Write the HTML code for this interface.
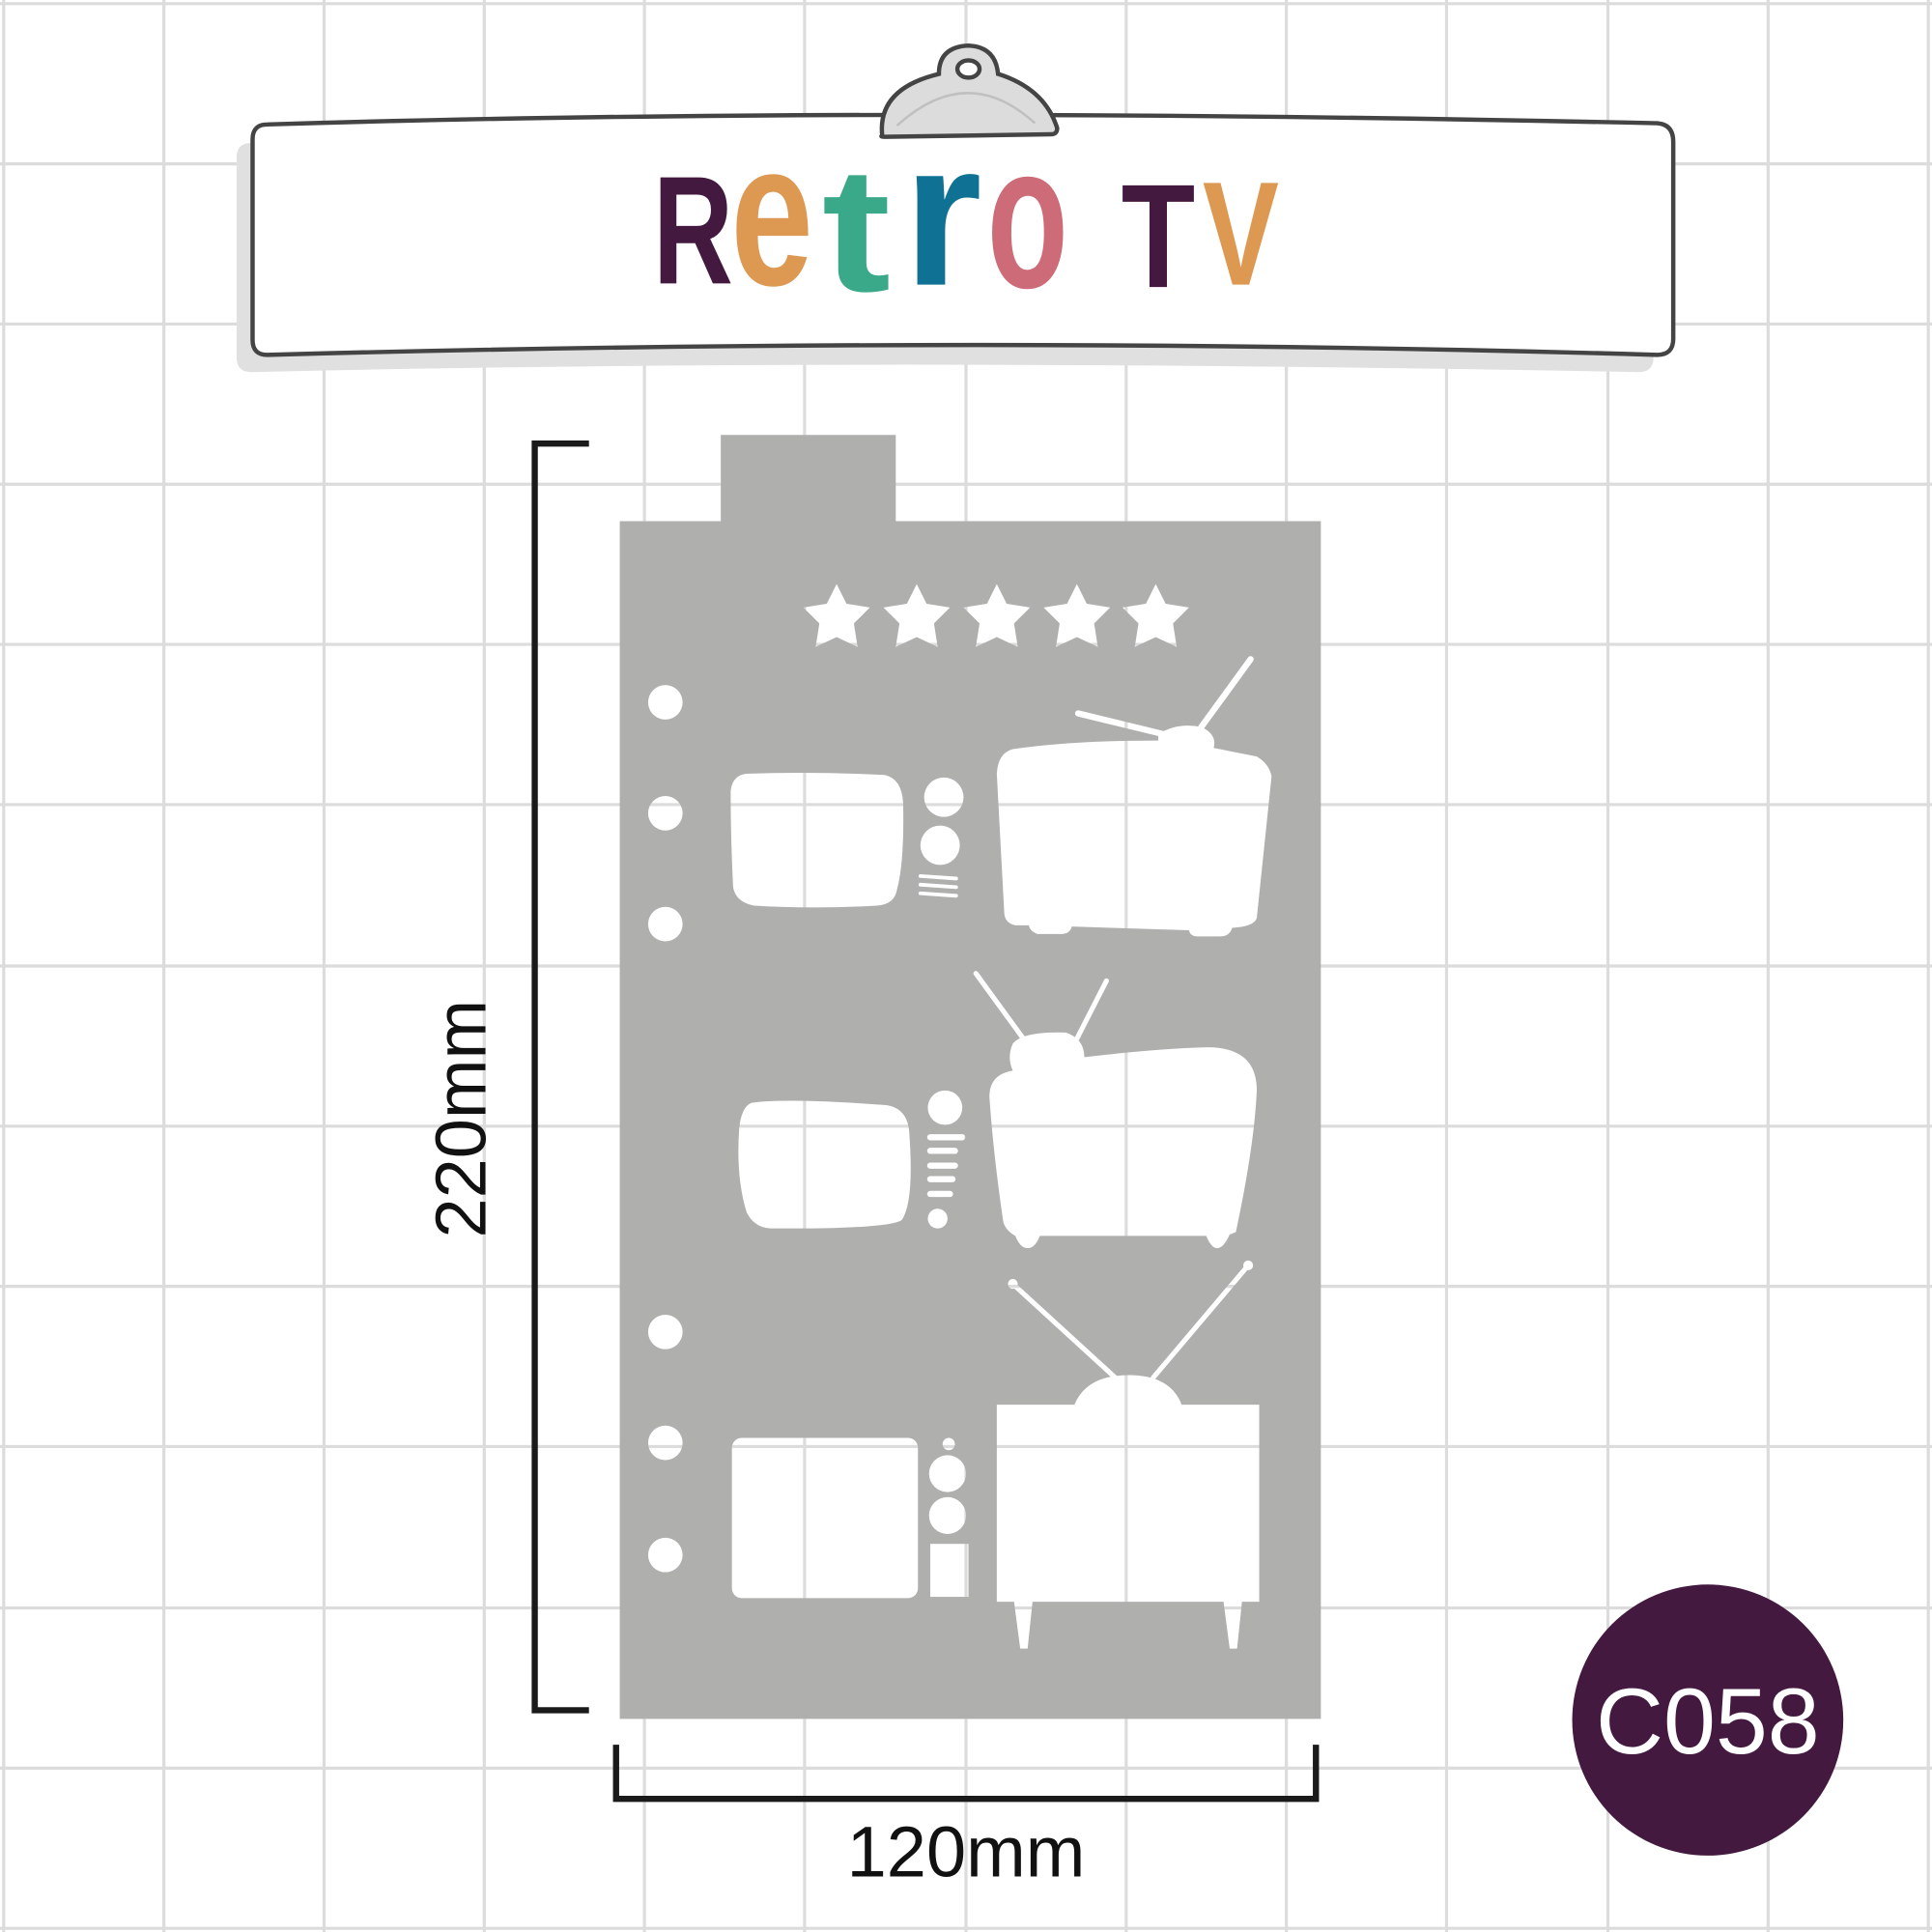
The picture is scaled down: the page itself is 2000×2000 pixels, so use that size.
<!DOCTYPE html>
<html><head><meta charset="utf-8"><style>
html,body{margin:0;padding:0;background:#fff;width:2000px;height:2000px;overflow:hidden}
svg{display:block}
</style></head><body>
<svg width="2000" height="2000" viewBox="0 0 1568 1568" xmlns="http://www.w3.org/2000/svg">
<defs>
<mask id="m" maskUnits="userSpaceOnUse" x="0" y="0" width="1568" height="1568">
<rect x="0" y="0" width="1568" height="1568" fill="#fff"/>
<g fill="#000" stroke="#000">
<g stroke="none">
<circle cx="540" cy="570" r="14"/><circle cx="540" cy="660" r="14"/><circle cx="540" cy="750" r="14"/>
<circle cx="540" cy="1081" r="14"/><circle cx="540" cy="1171" r="14"/><circle cx="540" cy="1262" r="14"/>
</g>
<g stroke="none">
<path d="M679,474 L687,490 L706,493 L693,506 L696,525 L679,517 L662,525 L665,506 L652,493 L671,490Z"/>
<path transform="translate(65,0)" d="M679,474 L687,490 L706,493 L693,506 L696,525 L679,517 L662,525 L665,506 L652,493 L671,490Z"/>
<path transform="translate(130,0)" d="M679,474 L687,490 L706,493 L693,506 L696,525 L679,517 L662,525 L665,506 L652,493 L671,490Z"/>
<path transform="translate(195,0)" d="M679,474 L687,490 L706,493 L693,506 L696,525 L679,517 L662,525 L665,506 L652,493 L671,490Z"/>
<path transform="translate(259,0)" d="M679,474 L687,490 L706,493 L693,506 L696,525 L679,517 L662,525 L665,506 L652,493 L671,490Z"/>
</g>
<path stroke="none" d="M605,628 Q660,626 718,629 Q732,632 733,652 Q734,700 728,722 Q726,734 712,735 Q660,738 612,735 Q597,732 595,720 Q593,680 593,642 Q594,630 605,628Z"/>
<circle stroke="none" cx="766" cy="647" r="16"/><circle stroke="none" cx="763" cy="686" r="16"/>
<g stroke-width="3" stroke-linecap="round"><line x1="747" y1="711" x2="776" y2="713"/><line x1="747" y1="718" x2="776" y2="720"/><line x1="747" y1="725" x2="776" y2="727"/></g>
<path stroke="none" d="M822,608 Q870,601 940,601 L940,596 Q955,586 975,590 Q988,596 985,607 L1020,614 Q1030,620 1032,630 L1020,745 Q1018,752 1000,753 Q998,760 990,760 L972,760 Q966,760 965,755 L870,752 Q868,758 862,758 L842,758 Q836,756 835,751 L824,751 Q815,749 815,740 L809,628 Q810,611 822,608Z"/>
<g stroke-width="5" stroke-linecap="round"><line x1="875" y1="579" x2="945" y2="596"/><line x1="975" y1="590" x2="1015" y2="535"/></g>
<path stroke="none" d="M610,895 Q640,891 720,897 Q737,900 738,920 Q742,975 732,990 Q725,996 660,997 L625,997 Q612,996 606,984 Q597,955 600,915 Q602,898 610,895Z"/>
<circle stroke="none" cx="767" cy="899" r="14"/><circle stroke="none" cx="761" cy="989" r="8"/>
<g stroke-width="5" stroke-linecap="round"><line x1="755" y1="923" x2="781" y2="923"/><line x1="755" y1="934" x2="775" y2="934"/><line x1="755" y1="946" x2="775" y2="946"/><line x1="755" y1="957" x2="773" y2="957"/><line x1="755" y1="969" x2="771" y2="969"/></g>
<path stroke="none" d="M880,858 Q940,851 980,850 Q1020,850 1020,885 Q1018,930 1003,1000 L998,1002 Q993,1013 988,1013 Q983,1013 979,1003 L844,1003 Q840,1013 834,1013 Q828,1013 824,1003 Q815,998 814,990 Q806,935 803,890 Q803,872 822,869 Q817,858 822,847 Q830,837 865,838 Q880,843 880,858Z"/>
<g stroke-width="4" stroke-linecap="round"><line x1="792" y1="790" x2="832" y2="845"/><line x1="898" y1="796" x2="874" y2="843"/></g>
<rect stroke="none" x="594" y="1167" width="151" height="130" rx="8"/>
<circle stroke="none" cx="770" cy="1172" r="5"/><circle stroke="none" cx="769" cy="1196" r="15"/><circle stroke="none" cx="769" cy="1230" r="15"/>
<rect stroke="none" x="755" y="1253" width="31" height="43"/>
<path stroke="none" d="M809,1140 L872,1140 Q882,1116 916,1116 Q950,1116 959,1140 L1022,1140 L1022,1300 L1008,1300 L1004,1338 L998,1338 L993,1300 L838,1300 L834,1338 L828,1338 L823,1300 L809,1300Z"/>
<g stroke-width="4" stroke-linecap="round"><line x1="822" y1="1042" x2="905" y2="1118"/><line x1="1013" y1="1027" x2="936" y2="1118"/></g>
<circle stroke="none" cx="822" cy="1042" r="4"/><circle stroke="none" cx="1013" cy="1027" r="4"/>
</g>
</mask>
</defs>
<rect width="1568" height="1568" fill="#fff"/>
<g stroke="#dcdcdc" stroke-width="2.5">
<line x1="3" y1="0" x2="3" y2="1568"/><line x1="133" y1="0" x2="133" y2="1568"/><line x1="263" y1="0" x2="263" y2="1568"/><line x1="393" y1="0" x2="393" y2="1568"/><line x1="523" y1="0" x2="523" y2="1568"/><line x1="653" y1="0" x2="653" y2="1568"/><line x1="784" y1="0" x2="784" y2="1568"/><line x1="914" y1="0" x2="914" y2="1568"/><line x1="1044" y1="0" x2="1044" y2="1568"/><line x1="1174" y1="0" x2="1174" y2="1568"/><line x1="1305" y1="0" x2="1305" y2="1568"/><line x1="1435" y1="0" x2="1435" y2="1568"/><line x1="1565" y1="0" x2="1565" y2="1568"/>
<line y1="3" x1="0" y2="3" x2="1568"/><line y1="133" x1="0" y2="133" x2="1568"/><line y1="263" x1="0" y2="263" x2="1568"/><line y1="393" x1="0" y2="393" x2="1568"/><line y1="523" x1="0" y2="523" x2="1568"/><line y1="653" x1="0" y2="653" x2="1568"/><line y1="784" x1="0" y2="784" x2="1568"/><line y1="914" x1="0" y2="914" x2="1568"/><line y1="1044" x1="0" y2="1044" x2="1568"/><line y1="1174" x1="0" y2="1174" x2="1568"/><line y1="1305" x1="0" y2="1305" x2="1568"/><line y1="1435" x1="0" y2="1435" x2="1568"/><line y1="1565" x1="0" y2="1565" x2="1568"/>
</g>
<path d="M204,116 Q700,104 1330,108 Q1342,108 1342,120 L1342,290 Q1342,302 1330,302 Q700,290 204,302 Q192,302 192,290 L192,128 Q192,116 204,116Z" fill="#e0e0e0"/>
<path d="M217,101 Q700,86 1345,100 Q1358,101 1358,115 L1358,275 Q1358,288 1345,288 Q800,272 217,288 Q205,288 205,276 L205,113 Q205,101 217,101Z" fill="#fff" stroke="#444" stroke-width="3.5"/>
<path d="M716,110 Q712,72 762,60 Q762,38 786,37 Q808,38 810,60 Q848,72 858,104 Q858,109 853,109 L718,111 Q714,111 716,110Z" fill="#dcdcdc" stroke="#444" stroke-width="3.5"/>
<path d="M728,102 Q785,50 840,100" fill="none" stroke="#c0c0c0" stroke-width="2"/>
<ellipse cx="786" cy="56" rx="9" ry="7" fill="#fff" stroke="#444" stroke-width="3.5"/>
<g font-family="Liberation Sans, sans-serif" font-weight="bold">
<text x="530" y="230" fill="#43193f" font-size="125" textLength="65" lengthAdjust="spacingAndGlyphs">R</text>
<text transform="translate(593,231) scale(1,1.45)" x="0" y="0" fill="#dd9852" font-size="115" textLength="67" lengthAdjust="spacingAndGlyphs">e</text>
<text transform="translate(667,236) scale(1,1.25)" x="0" y="0" fill="#3aa98a" font-size="115" textLength="56" lengthAdjust="spacingAndGlyphs">t</text>
<text transform="translate(733,231) scale(1,1.45)" x="0" y="0" fill="#0f7294" font-size="115" textLength="64" lengthAdjust="spacingAndGlyphs">r</text>
<text transform="translate(801,233) scale(1,1.45)" x="0" y="0" fill="#cd6c78" font-size="115" textLength="66" lengthAdjust="spacingAndGlyphs">o</text>
<text x="910" y="233" fill="#43193f" font-size="120" textLength="60" lengthAdjust="spacingAndGlyphs">T</text>
<text x="976" y="231" fill="#dd9852" font-size="120" textLength="62" lengthAdjust="spacingAndGlyphs">V</text>
</g>
<path d="M503,423 L585,423 L585,353 L727,353 L727,423 L1072,423 L1072,1395 L503,1395Z" fill="#afafae" mask="url(#m)"/>
<g stroke="#1a1a1a" stroke-width="5" fill="none">
<path d="M478,360 L434,360 L434,1388 L478,1388"/>
<path d="M500,1416 L500,1460 L1068,1460 L1068,1416"/>
</g>
<text transform="translate(394,908) rotate(-90)" text-anchor="middle" font-family="Liberation Sans, sans-serif" font-size="58" fill="#111">220mm</text>
<text x="784" y="1523" text-anchor="middle" font-family="Liberation Sans, sans-serif" font-size="58" fill="#111">120mm</text>
<circle cx="1386" cy="1396" r="110" fill="#43193f"/>
<text x="1386" y="1423" text-anchor="middle" font-family="Liberation Sans, sans-serif" font-size="76" fill="#fff">C058</text>
</svg>
</body></html>
